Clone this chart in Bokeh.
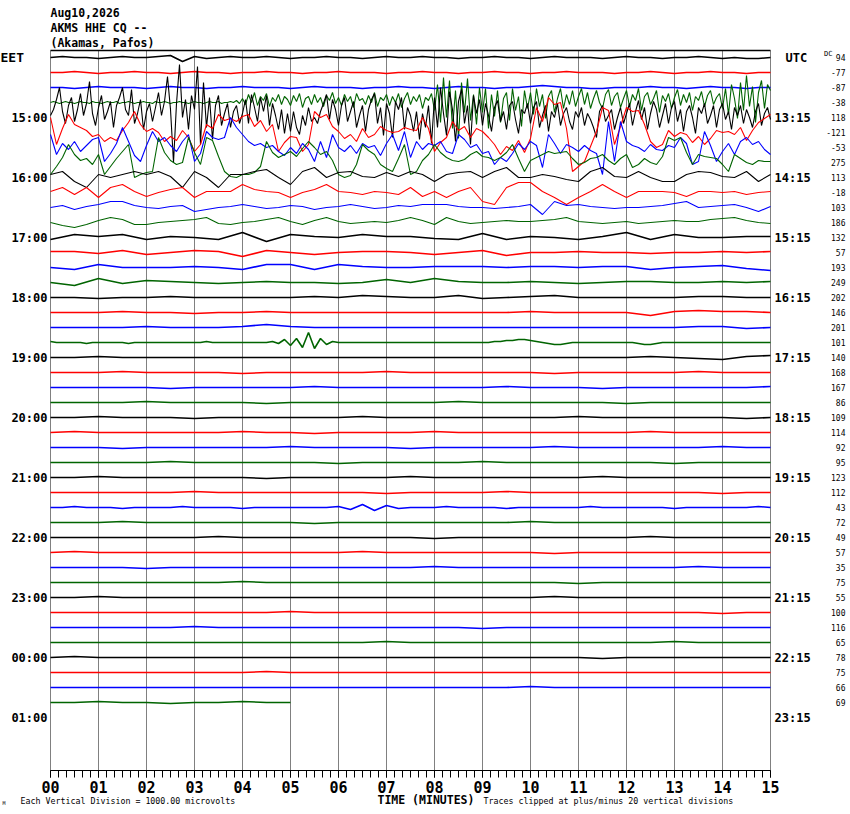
import numpy as np
from bokeh.plotting import figure
from bokeh.models import Range1d, FixedTicker, Label
from bokeh.embed import file_html
from bokeh.resources import INLINE

TITLE_LINES = ["Aug10,2026", "AKMS HHE CQ --", "(Akamas, Pafos)"]
LEFT_HOURS = ["15:00", "16:00", "17:00", "18:00", "19:00", "20:00",
              "21:00", "22:00", "23:00", "00:00", "01:00"]
RIGHT_HOURS = ["13:15", "14:15", "15:15", "16:15", "17:15", "18:15",
               "19:15", "20:15", "21:15", "22:15", "23:15"]
DC_VALUES = [94, -77, -87, -38, 118, -121, -53, 275, 113, -18, 103, 186,
             132, 57, 193, 249, 202, 146, 201, 101, 140, 168, 167, 86,
             109, 114, 92, 95, 123, 112, 43, 72, 49, 57, 35, 75,
             55, 100, 116, 65, 78, 75, 66, 69]
TICK_LABELS = ["00", "01", "02", "03", "04", "05", "06", "07", "08", "09",
               "10", "11", "12", "13", "14", "15"]
TRACE_COLORS = ["#000000", "#FF0000", "#0000FF", "#006400"]
LINE_MINUTES = 15.0
LAST_LINE_MINUTES = 5.0

# trace offsets (display units, positive = up), evenly sampled along each line
T00 = [0,1,0,0,-1,0,1,0,0,1,2,-4,1,-1,0,1,0,0,1,0,-1,0,0,1,0,0,-1,0,1,0,0,
       1,0,0,-1,0,0,1,0,0,-1,0,1,0,0,0,-1,0,1,0,0,-1,0,0,1,0,-1,0,-1,-1,0]
T01 = [0,0,1,0,-1,0,0,1,0,0,-1,0,1,0,0,-1,0,0,1,0,0,-1,0,0,1,0,0,0,-1,0,0,
       1,0,0,-1,0,0,1,0,0,-1,0,0,1,0,0,0,-1,0,0,1,0,-1,0,0,1,0,0,-1,0,0]
T02 = [0,0,-1,0,1,0,0,0,-1,0,1,0,0,-1,0,0,1,0,0,0,-1,0,1,0,0,0,-1,0,0,1,0,
       0,-1,0,1,0,0,-1,0,0,1,2,1,0,0,-1,-1,0,0,0,1,0,0,-1,0,1,0,0,-1,0,0]
T03 = [0,1,0,-1,0,1,0,0,-1,0,1,0,0,-1,1,0,
       0,-1,0,1,0,0,1,-1,0,0,1,0,-1,0,0,1,
       0,0,-1,1,0,0,1,0,-1,0,0,1,0,0,-1,0,
       1,0,0,-1,0,1,0,0,1,-1,0,0,1,0,2,-1,
       4,-2,8,0,10,-3,6,2,9,-4,5,1,8,-2,6,3,
       -3,7,1,9,-5,4,6,-2,8,0,5,-4,7,2,10,-1,
       5,-3,8,1,6,-5,9,2,4,-2,7,0,10,-4,5,2,
       8,-3,6,0,9,-5,4,10,-2,6,1,8,-6,5,2,9,
       -8,18,-20,25,-15,22,-26,12,-36,20,-10,24,-18,8,-22,15,
       -10,14,-26,8,-14,12,-20,4,10,-18,14,-8,6,-24,12,-6,
       10,-12,14,-4,8,-16,6,12,-10,4,14,-6,8,-2,12,-4,
       6,14,-2,10,-6,4,12,0,-6,8,13,-3,6,10,-5,4,
       12,-4,8,2,14,-8,6,10,-2,4,12,-10,7,1,9,-6,
       5,13,-3,8,0,10,-8,6,2,11,-4,7,12,-2,5,9,
       -6,14,-12,18,4,-16,20,-8,27,-4,16,-20,10,22,-6,18,
       12]
T04 = [2,8,18,30,6,-6,12,20,-4,8,24,2,14,36,4,-8,
       10,22,-2,6,16,-10,12,20,30,8,2,28,-6,4,18,-12,
       6,14,-4,10,25,2,16,41,8,-45,14,53,0,18,-12,22,
       8,51,-27,35,-10,20,-22,12,22,-8,4,14,-10,6,12,-6,
       4,18,-6,23,10,-4,20,6,22,-8,14,2,-12,8,-16,4,
       -14,6,-10,-17,2,-8,10,-4,0,-6,6,14,23,-2,18,8,
       -8,12,20,-4,6,16,-10,2,12,-14,8,18,24,-6,10,-18,
       14,4,-20,16,8,20,-12,10,2,-14,6,-22,4,-10,12,-26,
       20,-10,30,4,-18,26,8,-24,16,28,-6,12,-27,22,4,18,
       -8,14,2,-14,10,17,-4,6,-12,12,16,-2,-16,8,4,14,
       -6,10,16,-10,2,12,-14,6,0,14,-8,4,10,-4,-12,6,
       0,10,-8,4,-2,-10,-20,6,12,-4,2,8,-12,0,10,-6,
       4,14,-8,6,17,-2,10,-12,4,16,8,-10,2,14,-6,10,
       16,-4,8,-14,6,12,0,-16,10,4,14,-6,2,12,-10,8,
       14,-2,6,-12,10,2,12,-6,8,0,-10,6,14,-8,4,10,
       -2]
T05 = [15,-12,4,18,8,5,2,-4,-2,-9,-5,-8,2,10,21,8,
       1,4,0,-9,-4,-8,2,-5,-19,-12,8,4,18,12,14,11,
       16,18,6,12,1,8,-19,-10,-4,-5,-19,-12,21,15,18,6,
       1,-6,-2,-9,4,-5,-2,6,2,0,1,5,3,2,15,4,
       -19,-10,-5,11,2,6,-5,4,1,-5,-12,-22,-14,-18,-8,-20,
       -6,25,11,35,28,30,4,-39,-34,-29,-14,1,25,22,-12,6,
       25,21,22,8,-9,-15,-12,2,-4,0,-2,-10,-4,-12,-6,2,
       0,1,-2,5,-8,2,10,14,18]
T06 = [13,-7,4,-2,6,-4,2,8,10,-14,-6,4,20,6,-8,-14,
       2,16,6,10,2,-4,6,13,-14,-6,16,10,8,10,30,20,
       13,6,2,4,0,2,-4,-8,0,-6,4,-2,-14,6,-10,13,
       0,-4,2,-6,4,0,2,-8,4,13,-3,16,-10,6,-2,4,
       2,6,-4,-6,13,8,0,3,-6,-4,-17,-10,-14,-6,4,-2,
       6,2,-20,13,4,-6,3,0,-4,2,-3,-6,-27,26,-14,26,
       6,2,0,-4,3,-2,-3,2,0,10,4,-17,-14,16,2,-14,
       -4,4,-7,6,10,3,6,-2,-7]
T07 = [-12,-4,5,18,8,2,4,-2,8,-12,-4,4,11,18,-15,-12,
       -10,-9,25,10,2,-2,0,25,10,-2,25,22,6,-9,-14,-15,
       -12,-12,-10,-4,21,10,5,8,11,6,14,21,15,8,11,2,
       -12,-15,-13,-2,18,12,8,-2,-6,-9,4,18,-12,-9,2,8,
       18,10,5,2,1,3,8,11,6,5,2,5,10,18,4,-9,
       2,5,8,11,9,10,11,4,-2,0,4,5,8,2,-2,4,
       8,-5,-2,4,0,-2,6,25,22,25,10,-2,8,6,5,4,
       -2,-9,8,4,0,-2,2,1,1]
T08 = [3,6,-4,-10,3,0,3,6,3,6,1,-10,6,0,-10,3,3,6,8,0,-7,6,10,0,5,6,1,0,5,1,6,
       3,-4,3,5,6,0,6,10,0,0,3,1,-2,-4,6,10,1,0,6,0,-4,-4,3,6,5,1,0,6,-4,3]
T09 = [1,5,-2,5,-5,5,8,1,-4,0,3,5,-5,1,1,1,8,3,1,0,-5,0,3,8,1,0,-2,1,0,-2,5,
       -4,1,-5,1,5,-9,-12,5,10,10,1,-5,-12,-5,1,8,1,-5,1,1,1,0,-4,1,1,0,1,-2,0,1]
T10 = [0,2,-2,1,3,6,6,2,0,-1,1,2,-4,-2,0,1,3,1,-1,0,2,1,-2,0,1,3,1,-1,0,2,1,
       3,3,3,1,0,0,-1,0,1,3,-7,6,2,3,1,0,-1,0,0,1,2,4,6,0,1,2,3,0,-4,1]
T11 = [0,-3,-5,-2,2,5,3,-2,-2,0,1,2,3,5,-1,-2,0,1,3,5,1,-2,2,5,1,-1,0,1,0,2,5,
       2,-2,5,1,-1,0,1,2,1,1,2,3,5,1,0,-1,0,1,-1,0,1,2,1,1,3,4,5,2,0,-1]
T12 = [-2,3,1,3,-2,1,0,-2,5,-4,3,1,0,3,1,1,-1,-2,4,-2,1,0,-2,1,5,-2,3,0,0,1,1]
T13 = [1,1,-1,2,-2,0,2,1,-4,2,0,-2,0,1,1,0,-2,0,2,-3,0,0,1,0,0,-1,0,0,1,0,1]
T14 = [0,-2,3,0,0,0,1,0,-2,3,3,-2,3,1,0,0,1,1,1,0,1,1,0,1,1,-2,0,1,2,-1,-3]
T15 = [0,-3,4,-1,2,1,0,-1,0,1,0,0,-1,0,3,0,4,1,0,0,1,0,-1,0,1,1,0,0,1,0,1]
T16 = [0,0,-1,0,0,1,0,0,0,0,0,1,0,2,1,0,0,2,-1,0,1,2,0,0,0,0,0,1,1,0,0]
T17 = [0,0,0,1,0,0,-1,0,0,1,0,0,0,0,0,0,0,0,0,0,1,0,0,0,0,-3,1,2,1,1,0]
T18 = [0,0,0,0,1,0,0,0,1,3,1,0,0,0,0,0,0,0,0,0,0,0,0,0,0,0,0,1,1,-1,0]
T19 = [1,0,0,0,0,0,-1,0,0,0,0,0,0,-1,0,0,
       0,0,0,0,0,0,0,0,0,0,1,0,0,0,0,0,
       0,0,0,0,0,1,-1,3,-3,4,-5,10,-6,4,-2,1,
       0,0,0,0,0,0,0,0,0,0,0,0,0,0,0,0,
       0,0,0,0,0,0,0,0,0,0,1,1,2,2,3,3,
       2,1,0,-1,-2,-2,-1,0,0,0,0,0,0,0,0,0,
       0,0,-1,-2,-2,-1,0,0,0,0,0,0,0,0,0,0,
       0,0,0,0,0,0,0,0,0]
T20 = [0,0,1,0,0,0,0,0,0,0,0,0,0,0,0,0,0,0,0,0,0,0,0,0,0,1,0,-1,-2,1,2]
T21 = [0,0,0,1,0,0,0,0,-1,0,0,0,0,0,1,0,0,0,0,0,0,-1,0,0,0,0,0,1,0,0,0]
T22 = [0,0,0,0,0,-1,0,0,0,0,0,1,0,0,0,0,0,0,0,1,0,0,0,-1,0,0,0,0,0,0,1]
T23 = [0,0,0,0,1,0,0,0,0,-1,0,0,0,0,0,0,0,1,0,0,0,0,0,0,-1,0,0,0,0,0,0]
T24 = [0,0,1,0,0,0,-1,0,0,0,0,0,0,1,0,0,0,0,0,0,0,0,1,0,0,0,0,0,0,-1,0]
T25 = [0,1,0,0,0,0,0,0,1,0,0,-1,0,0,0,0,1,0,0,0,0,0,0,0,0,1,0,0,0,0,0]
T26 = [0,0,0,-1,0,0,0,0,0,0,1,0,0,0,0,-1,0,0,0,0,0,1,0,0,0,0,0,0,1,0,0]
T27 = [0,0,0,0,0,1,0,0,0,0,0,0,-1,0,0,0,0,0,1,0,0,0,0,0,0,0,-1,0,0,0,0]
T28 = [0,0,1,0,0,0,0,0,0,-1,0,0,0,0,0,1,0,0,0,0,0,0,0,1,0,0,0,0,0,0,0]
T29 = [0,0,0,0,0,0,1,0,0,0,0,0,0,0,-1,0,0,0,0,1,0,0,0,0,0,0,0,0,-1,0,0]
T30 = [0,0,1,0,0,0,-1,0,0,0,0,1,0,0,0,0,-1,0,0,0,0,0,0,0,1,-2,3,-3,2,-1,
       0,0,0,1,0,0,0,0,-1,0,0,0,0,0,0,1,0,0,0,0,0,0,-1,0,0,0,0,0,0,1,0]
T31 = [0,0,0,1,0,0,0,0,0,0,0,-1,0,0,0,0,0,0,0,0,1,0,0,0,0,0,0,0,0,0,0]
T32 = [0,0,0,0,0,0,0,1,0,0,0,0,0,0,0,0,-1,0,0,0,0,0,0,0,0,1,0,0,0,0,0]
T33 = [0,1,0,0,0,0,0,0,0,0,0,0,0,1,0,0,0,0,0,0,0,-1,0,0,0,0,0,0,0,0,0]
T34 = [0,0,0,0,-1,0,0,0,0,0,0,0,0,0,0,0,1,0,0,0,0,0,0,0,0,0,0,1,0,0,0]
T35 = [0,0,0,0,0,0,0,0,1,0,0,0,0,0,0,0,0,0,0,0,0,0,-1,0,0,0,0,0,0,0,0]
T36 = [0,0,1,0,0,0,0,0,0,0,0,0,0,0,0,0,0,0,0,0,0,1,0,0,0,0,0,0,0,0,0]
T37 = [0,0,0,0,0,0,0,0,0,0,1,0,0,0,0,0,0,0,0,0,0,0,0,0,0,0,0,0,-1,0,0]
T38 = [0,0,0,0,0,0,1,0,0,0,0,0,0,0,0,0,0,0,-1,0,0,0,0,0,0,0,0,0,0,0,0]
T39 = [0,0,0,0,0,0,0,0,0,0,0,0,0,0,1,0,0,0,0,0,0,0,0,0,0,0,1,0,0,0,0]
T40 = [0,1,0,0,0,0,0,0,0,0,0,0,0,0,0,0,0,0,0,0,0,0,0,-1,0,0,0,0,0,0,0]
T41 = [0,0,0,0,0,0,0,0,0,1,0,0,0,0,0,0,0,0,0,0,0,0,0,0,0,0,0,0,0,0,0]
T42 = [0,0,0,0,0,0,0,0,0,0,0,0,0,0,0,0,0,0,0,0,1,0,0,0,0,0,0,0,0,0,0]
T43 = [0,0,1,0,0,-1,0,0,1,0,0]

TRACES = [T00, T01, T02, T03, T04, T05, T06, T07, T08, T09, T10, T11,
          T12, T13, T14, T15, T16, T17, T18, T19, T20, T21, T22, T23,
          T24, T25, T26, T27, T28, T29, T30, T31, T32, T33, T34, T35,
          T36, T37, T38, T39, T40, T41, T42, T43]

UNITS_PER_LINE = 15.0  # display units between two successive lines
FONT = "DejaVu Sans Mono"
W, H = 850, 814


def px_x(page_x):
    return (page_x - 50) / 48.0


def px_y(page_y):
    return (page_y - 57) / 15.0


p = figure(width=W, height=H,
           x_range=Range1d(px_x(0), px_x(W)),
           y_range=Range1d(px_y(H), px_y(0)),
           output_backend="svg", toolbar_location=None,
           min_border=0, min_border_left=0, min_border_right=0,
           min_border_top=0, min_border_bottom=0)
p.outline_line_color = None
p.background_fill_color = "white"
p.border_fill_color = "white"
p.yaxis.visible = False
p.ygrid.visible = False
p.xgrid.visible = False

major = list(range(len(TICK_LABELS)))
ticker = FixedTicker(ticks=major, minor_ticks=[m / 6 for m in range(91)])
ax = p.xaxis[0]
ax.ticker = ticker
ax.fixed_location = px_y(770)
ax.bounds = (0, 15)
ax.major_label_overrides = {i: lab for i, lab in enumerate(TICK_LABELS)}
ax.major_tick_in = 0
ax.major_tick_out = 7
ax.minor_tick_in = 0
ax.minor_tick_out = 7
ax.axis_line_color = "black"
ax.major_tick_line_color = "black"
ax.minor_tick_line_color = "black"
ax.major_label_text_font = FONT
ax.major_label_text_font_size = "15px"
ax.major_label_text_font_style = "bold"
ax.major_label_text_color = "black"
ax.major_label_standoff = 3

# minute grid lines and top border of the trace area
top, bottom = px_y(50), px_y(770)
p.segment(x0=major, y0=[top] * len(major), x1=major, y1=[bottom] * len(major),
          line_color="#808080", line_width=1)
p.segment(x0=[0], y0=[top], x1=[LINE_MINUTES], y1=[top],
          line_color="black", line_width=1.5)

for k, vals in enumerate(TRACES):
    v = np.asarray(vals, dtype=float)
    span = LAST_LINE_MINUTES if k == len(TRACES) - 1 else LINE_MINUTES
    t = np.linspace(0, span, len(v))
    y = k - v / UNITS_PER_LINE
    lw = 1.1 if 3 <= k <= 11 else 1.6
    p.line(t, y, line_color=TRACE_COLORS[k % 4], line_width=lw)


def lab(x, y, text, size, bold=False, align="left"):
    p.add_layout(Label(x=x, y=y, text=text, text_font=FONT,
                       text_font_size=size,
                       text_font_style="bold" if bold else "normal",
                       text_align=align, text_baseline="middle",
                       text_color="black"))


for j, line in enumerate(TITLE_LINES):
    lab(0, px_y(12 + 15 * j), line, "11.5px", bold=True)

lab(px_x(0), 0, "EET", "13px", bold=True)
lab(px_x(785), 0, "UTC", "12px", bold=True)
for h, txt in enumerate(LEFT_HOURS):
    lab(px_x(47), 4 * (h + 1), txt, "12px", bold=True, align="right")
for h, txt in enumerate(RIGHT_HOURS):
    lab(px_x(774), 4 * (h + 1), txt, "12px", bold=True)
lab(px_x(832), px_y(53), "DC", "7px", align="right")
for k, dc in enumerate(DC_VALUES):
    lab(px_x(845), k, str(dc), "8px", align="right")

lab(px_x(2), px_y(802), "M", "5px")
lab(px_x(20), px_y(800), "Each Vertical Division = 1000.00 microvolts", "8.3px")
lab(px_x(377), px_y(799), "TIME (MINUTES)", "11.5px", bold=True)
lab(px_x(483), px_y(800), "Traces clipped at plus/minus 20 vertical divisions", "8.3px")

open("out.html", "w").write(file_html(p, INLINE))
